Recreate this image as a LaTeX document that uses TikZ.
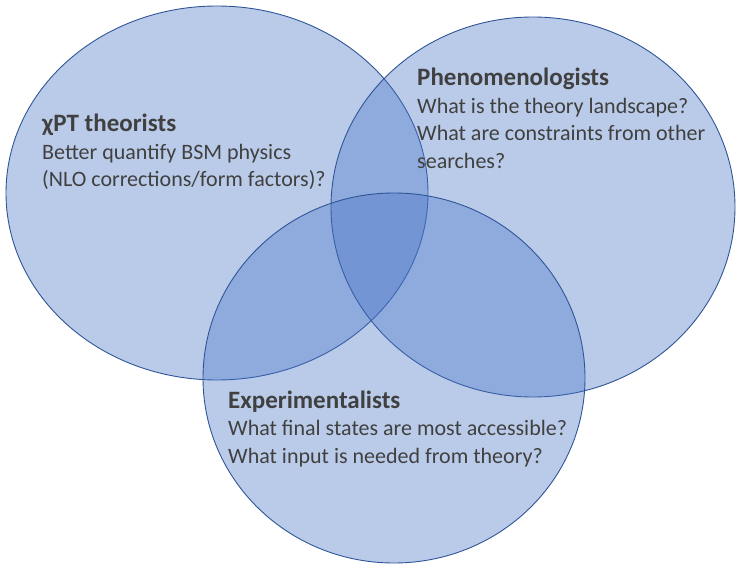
\documentclass[tikz,border=0pt]{standalone}
\usepackage{fontspec}
\setmainfont{Carlito}
\begin{document}
\begin{tikzpicture}[x=1pt,y=-1pt,
  venn/.style={fill=vennfill,fill opacity=0.37,draw=vennline,line width=0.9pt},
  label/.style={anchor=base west,align=left,inner sep=0pt,text=txt,font=\fontsize{22}{27.5}\selectfont}]
\definecolor{vennfill}{HTML}{4472C4}
\definecolor{vennline}{HTML}{2F5597}
\definecolor{txt}{HTML}{404040}
\newcommand{\ttl}[1]{{\fontsize{25}{27.5}\selectfont\bfseries #1}}
\useasboundingbox (0,0) rectangle (736,564);
\path[venn] (217,193) ellipse [x radius=211,y radius=187];
\path[venn] (533,207) ellipse [x radius=202,y radius=190];
\path[venn] (394,378) ellipse [x radius=191,y radius=185];
\node[label] (chpt) at (42,187) {\ttl{χPT theorists}\\Better quantify BSM physics\\(NLO corrections/form factors)?};
\node[label] (phen) at (417,168.5) {\ttl{Phenomenologists}\\What is the theory landscape?\\What are constraints from other\\searches?};
\node[label] (expt) at (228,463) {\ttl{Experimentalists}\\What final states are most accessible?\\What input is needed from theory?};
\end{tikzpicture}
\end{document}
